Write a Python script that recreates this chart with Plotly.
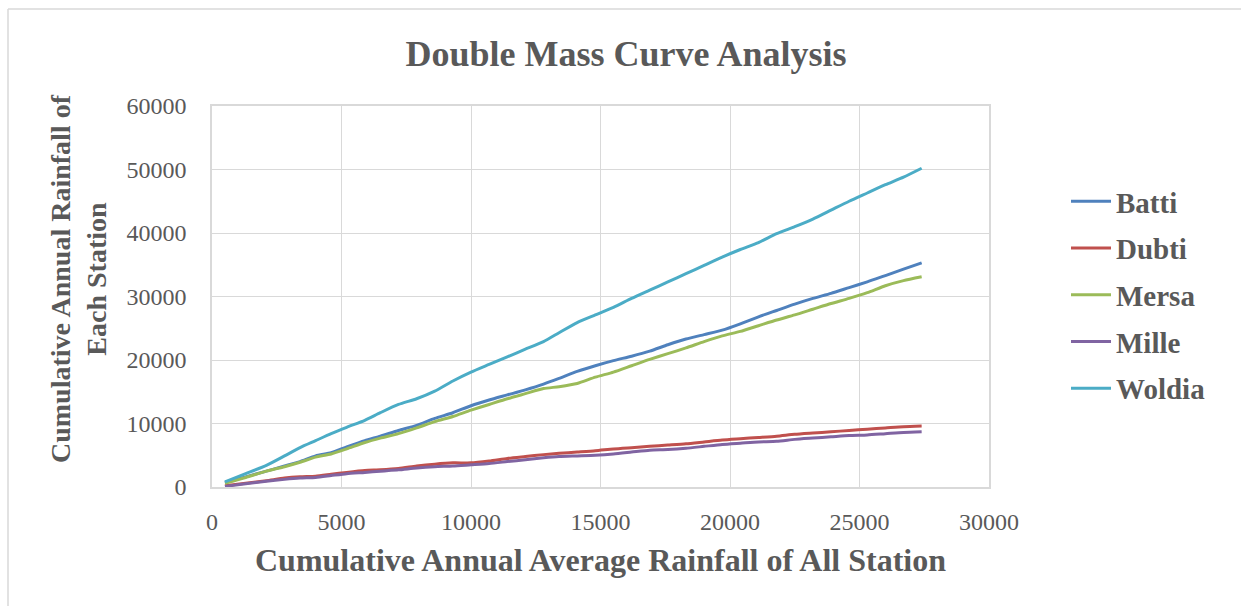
import plotly.graph_objects as go

# ---------------- data ----------------
cum_avg_all = [500, 1300, 2100, 2800, 3400, 4000, 4600, 5200, 5900, 6500,
               7200, 7900, 8600, 9300, 10000, 10700, 11400, 12100, 12800, 13400,
               14100, 14800, 15500, 16200, 16900, 17600, 18300, 19000, 19700, 20400,
               21100, 21800, 22500, 23200, 23900, 24600, 25300, 26000, 26700, 27400]

batti = [700, 1600, 2500, 3300, 4000, 4900, 5400, 6300, 7300, 8000,
         8900, 9700, 10800, 11700, 12800, 13700, 14500, 15300, 16200, 17100,
         18200, 19100, 19900, 20600, 21400, 22400, 23300, 24000, 24700, 25700,
         26800, 27800, 28800, 29700, 30500, 31400, 32300, 33300, 34300, 35300]

dubti = [200, 600, 1000, 1400, 1600, 1700, 2000, 2300, 2600, 2700,
         2900, 3300, 3600, 3800, 3800, 4100, 4500, 4800, 5100, 5300,
         5500, 5700, 6000, 6200, 6400, 6600, 6800, 7100, 7400, 7600,
         7800, 8000, 8300, 8500, 8700, 8900, 9100, 9300, 9500, 9600]

mersa = [600, 1500, 2500, 3200, 3900, 4700, 5200, 6000, 7000, 7700,
         8400, 9300, 10300, 11100, 12100, 13000, 13900, 14700, 15500, 15800,
         16300, 17300, 18100, 19100, 20100, 21000, 21900, 22900, 23800, 24500,
         25400, 26300, 27100, 28000, 28900, 29700, 30600, 31700, 32500, 33100]

mille = [100, 500, 900, 1200, 1400, 1500, 1800, 2100, 2300, 2500,
         2700, 3000, 3200, 3300, 3500, 3700, 4000, 4300, 4600, 4800,
         4900, 5000, 5200, 5500, 5800, 5900, 6100, 6400, 6700, 6900,
         7100, 7200, 7500, 7700, 7900, 8100, 8200, 8400, 8600, 8700]

woldia = [800, 2100, 3400, 4900, 6200, 7300, 8400, 9400, 10500, 11700,
          13000, 13900, 15100, 16700, 18100, 19300, 20500, 21700, 22900, 24300,
          25900, 27100, 28300, 29700, 31000, 32300, 33600, 34900, 36200, 37400,
          38500, 39900, 41000, 42200, 43600, 45000, 46300, 47600, 48800, 50200]

station_names = ["Batti", "Dubti", "Mersa", "Mille", "Woldia"]
station_values = [batti, dubti, mersa, mille, woldia]
station_colors = ["#4F81BD", "#C0504D", "#9BBB59", "#8064A2", "#4BACC6"]

x_ticks = [0, 5000, 10000, 15000, 20000, 25000, 30000]
y_ticks = [0, 10000, 20000, 30000, 40000, 50000, 60000]

# ---------------- figure ----------------
W, H = 1241, 606
L, R, T, B = 212, 252, 106, 119
pw, ph = W - L - R, H - T - B

FONT = "Liberation Serif, Times New Roman, serif"
GRAY = "#595959"
GRID = "#D9D9D9"

fig = go.Figure()
for name, vals, col in zip(station_names, station_values, station_colors):
    fig.add_trace(go.Scatter(
        x=cum_avg_all, y=vals, name="<b>" + name + "</b>", mode="lines",
        line=dict(color=col, width=3, shape="spline", smoothing=0.6),
        legendgroup=name,
    ))

fig.update_layout(
    width=W, height=H,
    margin=dict(l=L, r=R, t=T, b=B),
    paper_bgcolor="white", plot_bgcolor="white",
    font=dict(family=FONT, color=GRAY),
    title=dict(text="<b>Double Mass Curve Analysis</b>", x=0.5 * (397 + 855) / W,
               xanchor="center", y=1 - 53 / H, yanchor="middle",
               font=dict(family=FONT, size=36, color=GRAY)),
    showlegend=True,
    legend=dict(x=(1066 - L) / pw, xanchor="left", y=(487 - 176) / ph, yanchor="top",
                font=dict(family=FONT, size=29, color=GRAY),
                tracegroupgap=6, itemwidth=40, bgcolor="rgba(0,0,0,0)"),
)

fig.update_xaxes(
    range=[0, 30000], tickvals=x_ticks, ticktext=[str(v) for v in x_ticks],
    showgrid=True, gridcolor=GRID, gridwidth=1.3,
    showline=True, linecolor=GRID, linewidth=1.5, mirror=True,
    zeroline=False, ticks="outside", ticklen=12, tickcolor="rgba(0,0,0,0)",
    tickfont=dict(family=FONT, size=24, color=GRAY),
    title=dict(text="<b>Cumulative Annual Average Rainfall of All Station</b>",
               font=dict(family=FONT, size=32, color=GRAY), standoff=15),
)
fig.update_yaxes(
    range=[0, 60000], tickvals=y_ticks, ticktext=[str(v) for v in y_ticks],
    showgrid=True, gridcolor=GRID, gridwidth=1.3,
    showline=True, linecolor=GRID, linewidth=1.5, mirror=True,
    zeroline=False, ticks="outside", ticklen=19, tickcolor="rgba(0,0,0,0)",
    tickfont=dict(family=FONT, size=24, color=GRAY),
)

# y-axis title as an annotation so it can sit where the reference has it
fig.add_annotation(
    text="<b>Cumulative Annual Rainfall of<br>Each Station</b>",
    xref="paper", yref="paper", x=(78 - L) / pw, y=(487 - 279) / ph,
    xanchor="center", yanchor="middle", textangle=-90, showarrow=False,
    font=dict(family=FONT, size=28, color=GRAY),
)

# outer chart-area border (top and left edges visible in the reference)
fig.add_shape(type="line", xref="paper", yref="paper",
              x0=(8 - L) / pw, x1=(W - L) / pw, y0=(487 - 9) / ph, y1=(487 - 9) / ph,
              line=dict(color=GRID, width=1.5))
fig.add_shape(type="line", xref="paper", yref="paper",
              x0=(8 - L) / pw, x1=(8 - L) / pw, y0=(487 - 9) / ph, y1=(487 - H) / ph,
              line=dict(color=GRID, width=1.5))

fig.write_html("out.html")
